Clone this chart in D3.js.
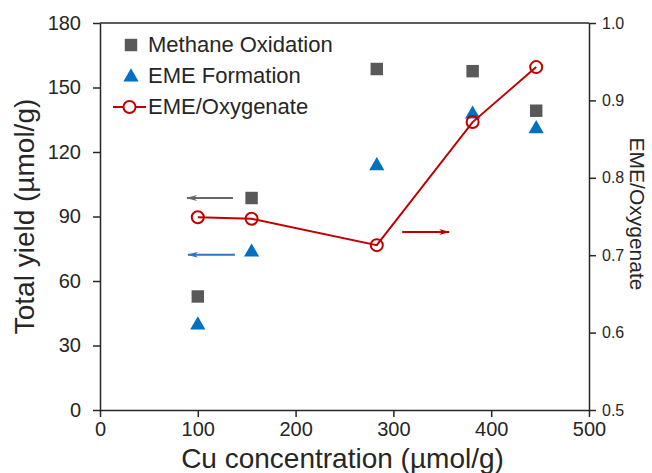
<!DOCTYPE html>
<html>
<head>
<meta charset="utf-8">
<script src="https://cdn.jsdelivr.net/npm/d3@7"></script>
<style>
  body { margin: 0; background: #fff; }
  svg { display: block; font-family: Arial, 'Liberation Sans', sans-serif; }
</style>
</head>
<body>
<svg id="chart" width="652" height="473"></svg>
<script>
// values
const cuConc = [100, 155, 283, 381, 446]
const methaneOx = [52.8, 98.6, 158.6, 157.6, 139.2]
const emeFormation = [39.5, 73.4, 113.6, 137.6, 130.8]
const emeRatio = [0.749, 0.747, 0.713, 0.872, 0.943]

const xTicks = [0, 100, 200, 300, 400, 500]
const yTicks = [0, 30, 60, 90, 120, 150, 180]
const y2Ticks = [0.5, 0.6, 0.7, 0.8, 0.9, 1.0]

// arrows showing which axis each series belongs to (data units)
const arrows = [
	{ axis: 'left', x1: 136, x2: 89, y: 98.6, color: '#666666' },
	{ axis: 'left', x1: 138, x2: 90, y: 72.2, color: '#2E75C6' },
	{ axis: 'right', x1: 309, x2: 357, y: 0.73, color: '#C00000' }
]

const gray = '#595959'
const blue = '#0070C0'
const red = '#C00000'
const ink = '#262626'

const width = 652,
	height = 473
const margin = { top: 23, right: 63, bottom: 63, left: 100 }

const svg = d3.select('#chart')

const x = d3.scaleLinear().domain([0, 500]).range([margin.left, width - margin.right])
const y = d3.scaleLinear().domain([0, 180]).range([height - margin.bottom, margin.top])
const y2 = d3.scaleLinear().domain([0.5, 1.0]).range([height - margin.bottom, margin.top])

// top frame line
svg.append('line')
	.attr('x1', x(0)).attr('x2', x(500))
	.attr('y1', y(180)).attr('y2', y(180))
	.attr('stroke', ink).attr('stroke-width', 1.5)

const styleAxis = (g, size) => {
	g.selectAll('path, line').attr('stroke', ink).attr('stroke-width', 1.5)
	g.selectAll('text').attr('fill', ink).attr('font-size', size)
		.attr('font-family', 'Arial, Liberation Sans, sans-serif')
}

svg.append('g')
	.attr('transform', `translate(0,${y(0)})`)
	.call(d3.axisBottom(x).tickValues(xTicks).tickSize(7).tickSizeOuter(0).tickPadding(5))
	.call(g => styleAxis(g, 20))

svg.append('g')
	.attr('transform', `translate(${x(0)},0)`)
	.call(d3.axisLeft(y).tickValues(yTicks).tickSize(7).tickSizeOuter(0).tickPadding(12))
	.call(g => styleAxis(g, 20))

svg.append('g')
	.attr('transform', `translate(${x(500)},0)`)
	.call(d3.axisRight(y2).tickValues(y2Ticks).tickSize(7).tickSizeOuter(0).tickPadding(6)
		.tickFormat(d3.format('.1f')))
	.call(g => styleAxis(g, 16))

// axis titles
svg.append('text')
	.attr('transform', `translate(34,${(y(0) + y(180)) / 2}) rotate(-90)`)
	.attr('text-anchor', 'middle')
	.attr('font-size', 28).attr('fill', ink)
	.text('Total yield (µmol/g)')

svg.append('text')
	.attr('x', (x(0) + x(500)) / 2 - 2).attr('y', 468)
	.attr('text-anchor', 'middle')
	.attr('font-size', 28).attr('fill', ink)
	.text('Cu concentration (µmol/g)')

svg.append('text')
	.attr('transform', `translate(630,214) rotate(90)`)
	.attr('text-anchor', 'middle')
	.attr('font-size', 21).attr('fill', ink)
	.text('EME/Oxygenate')

// annotation arrows
const defs = svg.append('defs')
arrows.forEach((a, i) => {
	defs.append('marker')
		.attr('id', 'head' + i)
		.attr('viewBox', '0 0 11 6')
		.attr('refX', 10).attr('refY', 3)
		.attr('markerWidth', 11).attr('markerHeight', 6)
		.attr('markerUnits', 'userSpaceOnUse')
		.attr('orient', 'auto')
		.append('path')
		.attr('d', 'M0,0 L11,3 L0,6 L3,3 Z')
		.attr('fill', a.color)
	const ys = a.axis === 'left' ? y : y2
	svg.append('line')
		.attr('x1', x(a.x1)).attr('x2', x(a.x2))
		.attr('y1', ys(a.y)).attr('y2', ys(a.y))
		.attr('stroke', a.color).attr('stroke-width', 1.8)
		.attr('marker-end', `url(#head${i})`)
})

const square = d3.symbol().type(d3.symbolSquare).size(155)
const triangle = d3.symbol().type(d3.symbolTriangle).size(100)

// methane oxidation
svg.append('g').selectAll('path')
	.data(cuConc)
	.join('path')
	.attr('transform', (d, i) => `translate(${x(d)},${y(methaneOx[i])})`)
	.attr('d', square)
	.attr('fill', gray)

// EME formation
svg.append('g').selectAll('path')
	.data(cuConc)
	.join('path')
	.attr('transform', (d, i) => `translate(${x(d)},${y(emeFormation[i])})`)
	.attr('d', triangle)
	.attr('fill', blue)

// EME/oxygenate on the right axis
const line = d3.line()
	.x((d, i) => x(cuConc[i]))
	.y(d => y2(d))

svg.append('path')
	.datum(emeRatio)
	.attr('d', line)
	.attr('fill', 'none')
	.attr('stroke', red)
	.attr('stroke-width', 2)

svg.append('g').selectAll('circle')
	.data(emeRatio)
	.join('circle')
	.attr('cx', (d, i) => x(cuConc[i]))
	.attr('cy', d => y2(d))
	.attr('r', 6)
	.attr('fill', 'none')
	.attr('stroke', red)
	.attr('stroke-width', 2)

// legend
const legend = svg.append('g')
legend.append('path')
	.attr('transform', 'translate(131,45)')
	.attr('d', square)
	.attr('fill', gray)
legend.append('path')
	.attr('transform', 'translate(131,77)')
	.attr('d', triangle)
	.attr('fill', blue)
legend.append('line')
	.attr('x1', 113).attr('x2', 146).attr('y1', 107).attr('y2', 107)
	.attr('stroke', red).attr('stroke-width', 2)
legend.append('circle')
	.attr('cx', 129.5).attr('cy', 107).attr('r', 6)
	.attr('fill', '#fff').attr('stroke', red).attr('stroke-width', 2)

const legendLabels = ['Methane Oxidation', 'EME Formation', 'EME/Oxygenate']
legend.selectAll('text.lbl')
	.data(legendLabels)
	.join('text')
	.attr('class', 'lbl')
	.attr('x', 148)
	.attr('y', (d, i) => 52 + i * 31)
	.attr('font-size', 22)
	.attr('fill', ink)
	.text(d => d)
</script>
</body>
</html>
